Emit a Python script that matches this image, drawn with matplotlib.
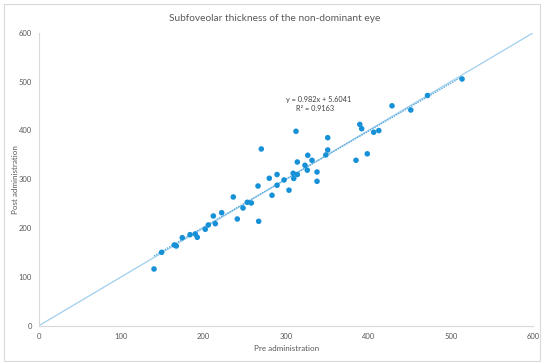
import matplotlib
matplotlib.use("Agg")
import matplotlib.pyplot as plt
from matplotlib.patches import Rectangle
import numpy as np

plt.rcParams['font.family'] = ['Lato', 'DejaVu Sans']

pre = [139.7, 149.0, 164.3, 166.7, 174.0, 183.4, 189.8, 192.2, 201.9, 205.6,
       214.1, 211.7, 221.8, 240.8, 266.7, 235.9, 247.7, 252.9, 257.8, 265.9,
       269.9, 282.9, 279.6, 289.0, 289.0, 297.5, 303.5, 308.6, 309.3, 313.6,
       313.6, 322.9, 326.3, 325.7, 331.4, 337.5, 337.5, 312.0, 350.5, 350.5,
       348.2, 384.8, 398.5, 389.4, 391.7, 406.3, 412.5, 428.5, 451.3, 471.6,
       513.5]
post = [116.1, 150.3, 165.3, 163.2, 180.2, 186.4, 187.8, 181.0, 197.4, 206.2,
        208.9, 224.7, 231.4, 218.5, 213.8, 263.6, 241.0, 252.7, 251.3, 286.1,
        361.9, 267.1, 301.9, 309.6, 287.7, 298.4, 277.5, 312.1, 301.5, 309.6,
        335.2, 328.5, 349.0, 318.5, 338.7, 314.8, 295.7, 398.1, 385.0, 359.8,
        349.6, 338.7, 352.0, 412.2, 403.4, 396.1, 399.6, 450.3, 441.7, 471.4,
        505.2]
ticks = [0, 100, 200, 300, 400, 500, 600]
identity = [0, 600]
slope, intercept = 0.982, 5.6041
eq_text = "y = 0.982x + 5.6041"
r2_text = "R² = 0.9163"
title = "Subfoveolar thickness of the non-dominant eye"
xlabel = "Pre administration"
ylabel = "Post administration"

fig = plt.figure(figsize=(5.5, 3.63), dpi=100)
fig.patches.append(Rectangle((0.007, 0.006), 0.975, 0.982, transform=fig.transFigure,
                             fill=False, edgecolor='#d9d9d9', linewidth=0.8))
ax = fig.add_axes([0.0707, 0.1028, 0.899, 0.8071])

ax.plot(identity, identity, color='#9fcfee', linewidth=0.9, zorder=1)
tx = np.array([min(pre), max(pre)])
ax.plot(tx, slope * tx + intercept, color='#5aa9dd', linewidth=1.0,
        linestyle=(0, (1, 0.8)), zorder=2)
ax.scatter(pre, post, s=16, color='#1690d6', edgecolors='none', zorder=3)

ax.set_xlim(0, 600)
ax.set_ylim(0, 600)
ax.set_xticks(ticks)
ax.set_yticks(ticks)
for s in ['top', 'right']:
    ax.spines[s].set_visible(False)
for s in ['left', 'bottom']:
    ax.spines[s].set_color('#d9d9d9')
    ax.spines[s].set_linewidth(0.8)
ax.tick_params(length=0, labelsize=5.5, labelcolor='#595959', pad=5)

ax.text(340, 463.6, eq_text, fontsize=5.3, color='#404040', ha='center', va='center')
ax.text(335, 445, r2_text, fontsize=5.3, color='#404040', ha='center', va='center')

fig.text(0.5, 1 - 18.2 / 363, title, fontsize=7.3, color='#595959', ha='center', va='center')
ax.set_xlabel(xlabel, fontsize=5.8, color='#595959', labelpad=4)
ax.set_ylabel(ylabel, fontsize=5.8, color='#595959')
ax.yaxis.set_label_coords(-0.0405, 0.5)

fig.savefig("out.png", dpi=100)
